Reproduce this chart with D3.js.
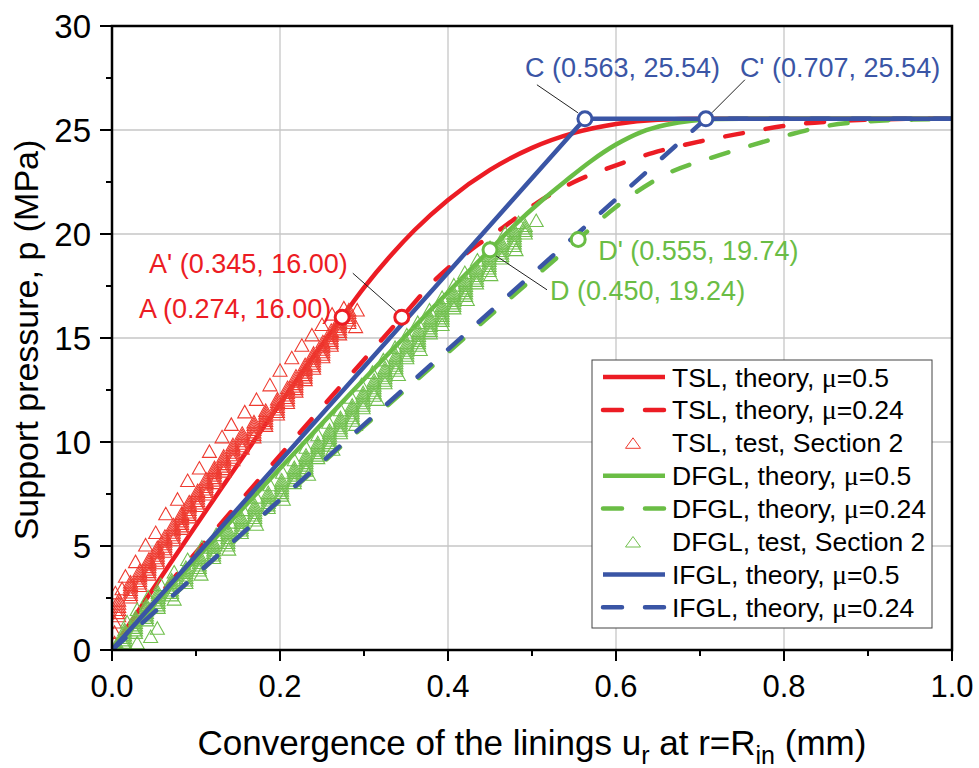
<!DOCTYPE html>
<html><head><meta charset="utf-8">
<script src="https://cdn.jsdelivr.net/npm/d3@7"></script>
<style>body{margin:0;background:#fff} svg{display:block;font-family:"Liberation Sans",Arial,sans-serif}</style>
</head><body><svg id="c" width="979" height="768"></svg>
<script>
// ---------- DATA ----------
const xTicks = [0, 0.2, 0.4, 0.6, 0.8, 1.0];
const xTickLabels = ["0.0", "0.2", "0.4", "0.6", "0.8", "1.0"];
const xMinorTicks = [0.1, 0.3, 0.5, 0.7, 0.9];
const yTicks = [0, 5, 10, 15, 20, 25, 30];
const yTickLabels = ["0", "5", "10", "15", "20", "25", "30"];
const yMinorTicks = [2.5, 7.5, 12.5, 17.5, 22.5, 27.5];

const xTitle = ["Convergence of the linings u", "r", " at r=R", "in", " (mm)"];
const yTitle = "Support pressure, p (MPa)";

const seriesNames = [
  "TSL, theory, μ=0.5", "TSL, theory, μ=0.24", "TSL, test, Section 2",
  "DFGL, theory, μ=0.5", "DFGL, theory, μ=0.24", "DFGL, test, Section 2",
  "IFGL, theory, μ=0.5", "IFGL, theory, μ=0.24"
];

const tslTheory05 = [[0,0],[0.274,16.00],[0.30,17.42],[0.33,18.88],[0.36,20.18],[0.40,21.64],[0.45,23.08],[0.50,24.14],[0.55,24.86],[0.60,25.29],[0.65,25.49],[0.707,25.54],[1.0,25.54]];
const tslTheory024 = [[0,0],[0.345,16.00],[0.385,17.8],[0.426,19.2],[0.465,20.3],[0.506,21.5],[0.55,22.5],[0.60,23.3],[0.644,23.9],[0.70,24.45],[0.751,24.85],[0.80,25.2],[0.851,25.4],[0.906,25.5],[0.95,25.54],[1.0,25.54]];
const dfglTheory05 = [[0,0],[0.450,19.24],[0.48,20.45],[0.51,21.55],[0.54,22.55],[0.57,23.5],[0.60,24.3],[0.63,24.9],[0.66,25.25],[0.69,25.45],[0.72,25.53],[0.75,25.54],[1.0,25.54]];
const dfglTheory024 = [[0,0],[0.555,19.74],[0.60,21.3],[0.661,22.9],[0.716,23.7],[0.756,24.2],[0.804,24.75],[0.851,25.2],[0.894,25.4],[0.954,25.5],[1.0,25.54]];
const ifglTheory05 = [[0,0],[0.563,25.54],[1.0,25.54]];
const ifglTheory024 = [[0,0],[0.707,25.54],[1.0,25.54]];

// test readings, grouped by loading step: [u_r, [p readings at that u_r]]
const tslTestSteps = [
[0.003,[0.3,0.8,1.3]],
[0.008,[1.6,1.75,1.9,2.05,2.2,2.35]],
[0.022,[2.50,2.62,2.74,2.86,2.98,3.10,3.22]],
[0.033,[3.05,3.17,3.29,3.41,3.53,3.65,3.77]],
[0.044,[3.60,3.72,3.84,3.96,4.08,4.20,4.32]],
[0.054,[4.15,4.27,4.39,4.51,4.63,4.75,4.87]],
[0.063,[4.70,4.82,4.94,5.06,5.18,5.30,5.42]],
[0.073,[5.25,5.37,5.49,5.61,5.73,5.85,5.97]],
[0.083,[5.80,5.92,6.04,6.16,6.28,6.40,6.52]],
[0.092,[6.35,6.47,6.59,6.71,6.83,6.95,7.07]],
[0.102,[6.90,7.02,7.14,7.26,7.38,7.50,7.62]],
[0.112,[7.45,7.57,7.69,7.81,7.93,8.05,8.17]],
[0.122,[8.00,8.12,8.24,8.36,8.48,8.60,8.72]],
[0.133,[8.55,8.67,8.79,8.91,9.03,9.15,9.27]],
[0.144,[9.10,9.22,9.34,9.46,9.58,9.70,9.82]],
[0.155,[9.65,9.77,9.89,10.01,10.13,10.25,10.37]],
[0.169,[10.20,10.32,10.44,10.56,10.68,10.80,10.92]],
[0.183,[10.75,10.87,10.99,11.11,11.23,11.35,11.47]],
[0.197,[11.30,11.42,11.54,11.66,11.78,11.90,12.02]],
[0.209,[11.85,11.97,12.09,12.21,12.33,12.45,12.57]],
[0.219,[12.40,12.52,12.64,12.76,12.88,13.00,13.12]],
[0.230,[12.95,13.07,13.19,13.31,13.43,13.55,13.67]],
[0.240,[13.50,13.62,13.74,13.86,13.98,14.10,14.22]],
[0.251,[14.05,14.17,14.29,14.41,14.53,14.65,14.77]],
[0.261,[14.60,14.72,14.84,14.96,15.08,15.20,15.32]],
[0.271,[15.15,15.27,15.39,15.51,15.63,15.75,15.87]],
[0.282,[15.70,15.82,15.94,16.06,16.18,16.30]]
];
const tslTestOutliers = [[0.004,2.7],[0.012,2.9],[0.016,3.5],[0.028,4.2],[0.040,5.0],[0.052,5.6],[0.064,6.5],[0.078,7.2],[0.090,8.1],[0.104,8.7],[0.116,9.5],[0.131,10.2],[0.142,10.8],[0.158,11.4],[0.172,12.0],[0.188,12.7],[0.200,13.4],[0.214,14.0],[0.226,14.6],[0.238,15.1],[0.250,15.6],[0.262,16.1],[0.276,16.4],[0.292,16.3],[0.290,15.5]];

const dfglTestSteps = [
[0.006,[0.05,0.15,0.25]],
[0.015,[0.20,0.32,0.44,0.56,0.68,0.80,0.92]],
[0.028,[0.80,0.92,1.04,1.16,1.28,1.40,1.52]],
[0.041,[1.40,1.52,1.64,1.76,1.88,2.00,2.12]],
[0.055,[2.00,2.12,2.24,2.36,2.48,2.60,2.72]],
[0.071,[2.60,2.72,2.84,2.96,3.08,3.20,3.32]],
[0.088,[3.20,3.32,3.44,3.56,3.68,3.80,3.92]],
[0.104,[3.80,3.92,4.04,4.16,4.28,4.40,4.52]],
[0.121,[4.40,4.52,4.64,4.76,4.88,5.00,5.12]],
[0.138,[5.00,5.12,5.24,5.36,5.48,5.60,5.72]],
[0.154,[5.60,5.72,5.84,5.96,6.08,6.20,6.32]],
[0.170,[6.20,6.32,6.44,6.56,6.68,6.80,6.92]],
[0.186,[6.80,6.92,7.04,7.16,7.28,7.40,7.52]],
[0.202,[7.40,7.52,7.64,7.76,7.88,8.00,8.12]],
[0.217,[8.00,8.12,8.24,8.36,8.48,8.60,8.72]],
[0.231,[8.60,8.72,8.84,8.96,9.08,9.20,9.32]],
[0.245,[9.20,9.32,9.44,9.56,9.68,9.80,9.92]],
[0.259,[9.80,9.92,10.04,10.16,10.28,10.40,10.52]],
[0.272,[10.40,10.52,10.64,10.76,10.88,11.00,11.12]],
[0.286,[11.00,11.12,11.24,11.36,11.48,11.60,11.72]],
[0.299,[11.60,11.72,11.84,11.96,12.08,12.20,12.32]],
[0.312,[12.20,12.32,12.44,12.56,12.68,12.80,12.92]],
[0.325,[12.80,12.92,13.04,13.16,13.28,13.40,13.52]],
[0.338,[13.40,13.52,13.64,13.76,13.88,14.00,14.12]],
[0.351,[14.00,14.12,14.24,14.36,14.48,14.60,14.72]],
[0.365,[14.60,14.72,14.84,14.96,15.08,15.20,15.32]],
[0.379,[15.20,15.32,15.44,15.56,15.68,15.80,15.92]],
[0.393,[15.80,15.92,16.04,16.16,16.28,16.40,16.52]],
[0.407,[16.40,16.52,16.64,16.76,16.88,17.00,17.12]],
[0.421,[17.00,17.12,17.24,17.36,17.48,17.60,17.72]],
[0.434,[17.60,17.72,17.84,17.96,18.08,18.20,18.32]],
[0.449,[18.20,18.32,18.44,18.56,18.68,18.80,18.92]],
[0.464,[18.80,18.92,19.04,19.16,19.28,19.40,19.52]],
[0.479,[19.40,19.52,19.64,19.76,19.88,20.00,20.12]],
[0.492,[20.00,20.12,20.24,20.36]]
];
const dfglTestOutliers = [[0.030,0.3],[0.046,0.6],[0.054,1.0],[0.018,1.3],[0.030,1.9],[0.043,2.5],[0.058,3.1],[0.074,3.7],[0.090,4.3],[0.107,4.9],[0.124,5.5],[0.140,6.1],[0.156,6.7],[0.172,7.3],[0.188,7.9],[0.203,8.5],[0.217,9.1],[0.231,9.7],[0.245,10.3],[0.258,10.9],[0.272,11.5],[0.285,12.1],[0.297,12.7],[0.310,13.3],[0.323,13.9],[0.337,14.5],[0.351,15.1],[0.364,15.7],[0.378,16.3],[0.393,16.9],[0.407,17.5],[0.420,18.1],[0.435,18.7],[0.450,19.3],[0.468,20.0],[0.484,20.5],[0.505,20.6],
[0.074,2.4],[0.106,3.6],[0.139,4.8],[0.172,6.0],[0.204,7.2],[0.234,8.4],[0.263,9.6],[0.290,10.8],[0.316,12.0],[0.341,13.2],[0.367,14.4],[0.393,15.6],[0.423,16.8],[0.451,18.0],[0.481,19.2]];

const keyNames = ["A", "A'", "C", "C'", "D", "D'"];
const keyX = [0.274, 0.345, 0.563, 0.707, 0.450, 0.555];
const keyY = [16.00, 16.00, 25.54, 25.54, 19.24, 19.74];
const keyGroup = ["TSL", "TSL", "IFGL", "IFGL", "DFGL", "DFGL"];

// ---------- STYLE / LAYOUT ----------
const colors = {TSL: "#ec1c24", DFGL: "#6abd45", IFGL: "#3a55a5"};
const testColors = {TSL: "#ee3b30", DFGL: "#72c04f"};
const margin = {left: 112, right: 27, top: 26, bottom: 118};
const W = 979, H = 768;
const svg = d3.select("#c");
const x = d3.scaleLinear().domain([0, 1]).range([margin.left, W - margin.right]);
const y = d3.scaleLinear().domain([0, 30]).range([H - margin.bottom, margin.top]);
const x0 = x(0), x1 = x(1), y0 = y(0), y1 = y(30);

const flatten = (steps, extra) => steps.flatMap(s => s[1].map(p => [s[0], p])).concat(extra);
const tslTest = flatten(tslTestSteps, tslTestOutliers);
const dfglTest = flatten(dfglTestSteps, dfglTestOutliers);

// grid
const grid = svg.append("g");
grid.selectAll("line.gx").data(xTicks.filter(d => d > 0 && d < 1)).enter().append("line")
  .attr("x1", d => x(d)).attr("x2", d => x(d)).attr("y1", y0).attr("y2", y1)
  .attr("stroke", "#c6c6c6").attr("stroke-width", 1.3);
grid.selectAll("line.gy").data(yTicks.filter(d => d > 0 && d < 30)).enter().append("line")
  .attr("y1", d => y(d)).attr("y2", d => y(d)).attr("x1", x0).attr("x2", x1)
  .attr("stroke", "#c6c6c6").attr("stroke-width", 1.3);

const plot = svg.append("g");
svg.append("clipPath").attr("id", "pc").append("rect")
  .attr("x", x0).attr("y", y1).attr("width", x1 - x0).attr("height", y0 - y1);
plot.attr("clip-path", "url(#pc)");

const smooth = d3.line().x(d => x(d[0])).y(d => y(d[1])).curve(d3.curveMonotoneX);
const straight = d3.line().x(d => x(d[0])).y(d => y(d[1]));
const DASH = "18,23";
const LW = 4.5;
const triPath = "M0,-7.5L7,5L-7,5Z";

function drawLine(data, color, dashed, gen) {
  plot.append("path").attr("d", gen(data)).attr("fill", "none")
    .attr("stroke", color).attr("stroke-width", LW)
    .attr("stroke-linecap", dashed ? "round" : "butt")
    .attr("stroke-linejoin", "round")
    .attr("stroke-dasharray", dashed ? DASH : null);
}
function drawTests(data, color) {
  plot.append("g").selectAll("path").data(data).enter().append("path")
    .attr("d", triPath)
    .attr("transform", d => `translate(${x(d[0])},${y(d[1])})`)
    .attr("fill", "none").attr("stroke", color).attr("stroke-width", 1.1);
}

drawLine(tslTheory05, colors.TSL, false, smooth);
drawLine(tslTheory024, colors.TSL, true, smooth);
drawTests(tslTest, testColors.TSL);
drawLine(dfglTheory05, colors.DFGL, false, smooth);
drawLine(dfglTheory024, colors.DFGL, true, smooth);
drawTests(dfglTest, testColors.DFGL);
drawLine(ifglTheory05, colors.IFGL, false, straight);
drawLine(ifglTheory024, colors.IFGL, true, straight);

// key points + annotations
const labelLayout = {
  "A":  {dx: -11, dy: 1,  anchor: "end",   lead: null},
  "A'": {dx: -54, dy: -44, anchor: "end",  lead: [-49, -44, -6, -6]},
  "C":  {dx: -60, dy: -42, anchor: "start", lead: [-48, -34, -7, -6]},
  "C'": {dx: 34,  dy: -42, anchor: "start", lead: [39, -39, 6, -6]},
  "D":  {dx: 60,  dy: 50,  anchor: "start", lead: [57, 40, 6, 6]},
  "D'": {dx: 20,  dy: 21,  anchor: "start", lead: null}
};
const ann = svg.append("g");
keyNames.forEach((n, i) => {
  const px = x(keyX[i]), py = y(keyY[i]);
  const L = labelLayout[n];
  const col = colors[keyGroup[i]];
  if (L.lead) {
    ann.append("line").attr("x1", px + L.lead[0]).attr("y1", py + L.lead[1])
      .attr("x2", px + L.lead[2]).attr("y2", py + L.lead[3])
      .attr("stroke", "#222").attr("stroke-width", 1);
  }
  ann.append("circle").attr("cx", px).attr("cy", py).attr("r", 7)
    .attr("fill", "#fff").attr("stroke", col).attr("stroke-width", 3);
  ann.append("text").attr("x", px + L.dx).attr("y", py + L.dy)
    .attr("text-anchor", L.anchor).attr("font-size", 27).attr("fill", col)
    .text(`${n} (${keyX[i].toFixed(3)}, ${keyY[i].toFixed(2)})`);
});

// frame
svg.append("rect").attr("x", x0).attr("y", y1).attr("width", x1 - x0).attr("height", y0 - y1)
  .attr("fill", "none").attr("stroke", "#000").attr("stroke-width", 2.5);

// ticks
const ax = svg.append("g").attr("stroke", "#000").attr("stroke-width", 2);
xTicks.forEach(t => ax.append("line").attr("x1", x(t)).attr("x2", x(t)).attr("y1", y0).attr("y2", y0 + 11));
xMinorTicks.forEach(t => ax.append("line").attr("x1", x(t)).attr("x2", x(t)).attr("y1", y0).attr("y2", y0 + 6));
yTicks.forEach(t => ax.append("line").attr("y1", y(t)).attr("y2", y(t)).attr("x1", x0).attr("x2", x0 - 12));
yMinorTicks.forEach(t => ax.append("line").attr("y1", y(t)).attr("y2", y(t)).attr("x1", x0).attr("x2", x0 - 6));

svg.append("g").selectAll("text").data(xTicks).enter().append("text")
  .attr("x", d => x(d)).attr("y", y0 + 47).attr("text-anchor", "middle")
  .attr("font-size", 31).attr("fill", "#000").text((d, i) => xTickLabels[i]);
svg.append("g").selectAll("text").data(yTicks).enter().append("text")
  .attr("x", x0 - 21).attr("y", d => y(d) + 12).attr("text-anchor", "end")
  .attr("font-size", 33).attr("fill", "#000").text((d, i) => yTickLabels[i]);

// axis titles
const xt = svg.append("text").attr("x", (x0 + x1) / 2).attr("y", 755)
  .attr("text-anchor", "middle").attr("font-size", 35).attr("fill", "#000");
xt.append("tspan").text(xTitle[0]);
xt.append("tspan").attr("dy", 9).attr("font-size", 25).text(xTitle[1]);
xt.append("tspan").attr("dy", -9).text(xTitle[2]);
xt.append("tspan").attr("dy", 9).attr("font-size", 25).text(xTitle[3]);
xt.append("tspan").attr("dy", -9).text(xTitle[4]);

svg.append("text").attr("transform", `translate(38,${(y0 + y1) / 2 + 2}) rotate(-90)`)
  .attr("text-anchor", "middle").attr("font-size", 34).attr("fill", "#000").text(yTitle);

// legend
const lg = svg.append("g");
lg.append("rect").attr("x", 592).attr("y", 360).attr("width", 340).attr("height", 268)
  .attr("fill", "#fff").attr("stroke", "#444").attr("stroke-width", 1);
const legendStyle = [
  {c: colors.TSL, t: "solid"}, {c: colors.TSL, t: "dash"}, {c: testColors.TSL, t: "tri"},
  {c: colors.DFGL, t: "solid"}, {c: colors.DFGL, t: "dash"}, {c: testColors.DFGL, t: "tri"},
  {c: colors.IFGL, t: "solid"}, {c: colors.IFGL, t: "dash"}
];
seriesNames.forEach((name, i) => {
  const ry = 377 + i * 32.9;
  const s = legendStyle[i];
  if (s.t === "tri") {
    lg.append("path").attr("d", "M0,-6L7.5,4.5L-7.5,4.5Z").attr("transform", `translate(633,${ry + 1})`)
      .attr("fill", "none").attr("stroke", s.c).attr("stroke-width", 1);
  } else {
    lg.append("line").attr("x1", 603).attr("x2", 665).attr("y1", ry).attr("y2", ry)
      .attr("stroke", s.c).attr("stroke-width", LW)
      .attr("stroke-linecap", s.t === "dash" ? "round" : "butt")
      .attr("stroke-dasharray", s.t === "dash" ? "19,23" : null);
  }
  const t = lg.append("text").attr("x", 672).attr("y", ry + 9.5).attr("font-size", 26.5).attr("fill", "#000");
  const parts = name.split("μ");
  t.append("tspan").text(parts[0]);
  if (parts.length > 1) {
    t.append("tspan").attr("font-family", "'Liberation Serif','Times New Roman',serif").attr("font-size", 28).text("μ");
    t.append("tspan").text(parts[1]);
  }
});
</script></body></html>
